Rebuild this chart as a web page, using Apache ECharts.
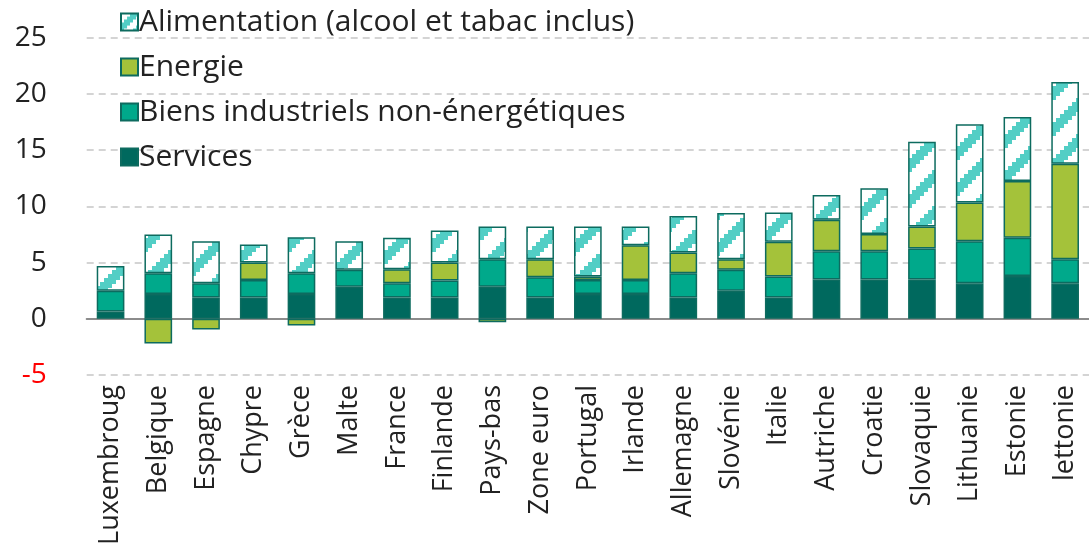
<!DOCTYPE html>
<html>
<head>
<meta charset="utf-8">
<script src="https://cdn.jsdelivr.net/npm/echarts@6/dist/echarts.min.js"></script>
<style>
  html, body { margin: 0; padding: 0; background: #fff; }
  #chart { width: 1089px; height: 556px; }
</style>
</head>
<body>
<div id="chart"></div>
<script>
const countries = ['Luxembroug', 'Belgique', 'Espagne', 'Chypre', 'Grèce', 'Malte', 'France', 'Finlande', 'Pays-bas', 'Zone euro', 'Portugal', 'Irlande', 'Allemagne', 'Slovénie', 'Italie', 'Autriche', 'Croatie', 'Slovaquie', 'Lithuanie', 'Estonie', 'lettonie']
const services = [0.65, 2.2, 1.9, 1.9, 2.2, 2.85, 1.9, 1.9, 2.85, 1.9, 2.2, 2.2, 1.9, 2.5, 1.9, 3.5, 3.5, 3.5, 3.15, 3.8, 3.15]
const biens = [1.85, 1.85, 1.25, 1.55, 1.85, 1.5, 1.25, 1.5, 2.45, 1.8, 1.25, 1.25, 2.15, 1.85, 1.85, 2.5, 2.5, 2.75, 3.75, 3.4, 2.15]
const energie = [null, -2.2, -0.95, 1.55, -0.6, null, 1.25, 1.6, -0.3, 1.6, 0.3, 3.1, 1.85, 0.95, 3.1, 2.8, 1.55, 1.95, 3.45, 5.05, 8.5]
const alimentation = [2.2, 3.45, 3.75, 1.6, 3.2, 2.55, 2.8, 2.85, 2.9, 2.9, 4.45, 1.65, 3.25, 4.1, 2.6, 2.2, 4.05, 7.55, 6.95, 5.7, 7.25]
const yTicks = [-5, 0, 5, 10, 15, 20, 25]

const names = {
  alim: 'Alimentation (alcool et tabac inclus)',
  energie: 'Energie',
  biens: 'Biens industriels non-énergétiques',
  services: 'Services',
}

// stepped diagonal hatch like the original
const makeHatch = (size, step, thick) => {
  const c = document.createElement('canvas')
  c.width = size
  c.height = size
  const ctx = c.getContext('2d')
  ctx.fillStyle = '#ffffff'
  ctx.fillRect(0, 0, size, size)
  ctx.fillStyle = '#52cec5'
  for (let x = 0; x < size; x += step) {
    const y = size - x - thick
    for (const off of [-size, 0, size]) {
      ctx.fillRect(x, y + off, step, thick)
    }
  }
  return c
}

const font = '"Open Sans", "DejaVu Sans", sans-serif'
const border = '#0d6b5f'

const chart = echarts.init(document.getElementById('chart'), null, { renderer: 'canvas' })

const barSeries = (name, data, color) => ({
  name,
  type: 'bar',
  stack: 'total',
  data,
  barWidth: '58%',
  itemStyle: {
    color,
    borderColor: border,
    borderWidth: 1.5,
  },
})

const options = {
  animation: false,
  grid: {
    left: 86.7,
    top: 37.7,
    width: 1014,
    height: 337.3,
  },
  legend: {
    orient: 'vertical',
    left: 115,
    top: 1,
    itemWidth: 17,
    itemHeight: 17,
    itemGap: 13,
    icon: 'rect',
    textStyle: {
      fontFamily: font,
      fontSize: 30,
      color: '#222',
      lineHeight: 32,
      padding: [0, 0, 0, -4],
    },
    data: [
      { name: names.alim, itemStyle: { color: { image: makeHatch(18, 3, 9), repeat: 'repeat' } } },
      names.energie,
      names.biens,
      names.services,
    ],
  },
  xAxis: [
    {
      type: 'category',
      data: countries,
      position: 'bottom',
      axisLine: { show: false, onZero: false },
      axisTick: { show: false },
      axisLabel: {
        rotate: 90,
        margin: 10,
        interval: 0,
        fontFamily: font,
        fontSize: 27,
        color: '#222',
      },
    },
    {
      type: 'category',
      data: countries,
      position: 'bottom',
      axisLine: { onZero: true, lineStyle: { color: '#8c8c8c', width: 2 } },
      axisTick: { length: 9, lineStyle: { color: '#8c8c8c', width: 2 } },
      axisLabel: { show: false },
    },
  ],
  yAxis: {
    type: 'value',
    min: yTicks[0],
    max: yTicks[yTicks.length - 1],
    interval: 5,
    axisLine: { show: false },
    axisTick: { show: false },
    axisLabel: {
      margin: 40,
      fontFamily: font,
      fontSize: 28,
      color: (v) => (v < 0 ? '#ff0000' : '#222'),
    },
    splitLine: {
      lineStyle: { color: '#d4d4d4', width: 2, type: [7, 5] },
    },
  },
  series: [
    barSeries(names.services, services, '#00695e'),
    barSeries(names.biens, biens, '#00a98b'),
    barSeries(names.energie, energie, '#a4c23a'),
    barSeries(names.alim, alimentation, { image: makeHatch(36, 4, 14), repeat: 'repeat' }),
  ],
}

chart.setOption(options)
</script>
</body>
</html>
